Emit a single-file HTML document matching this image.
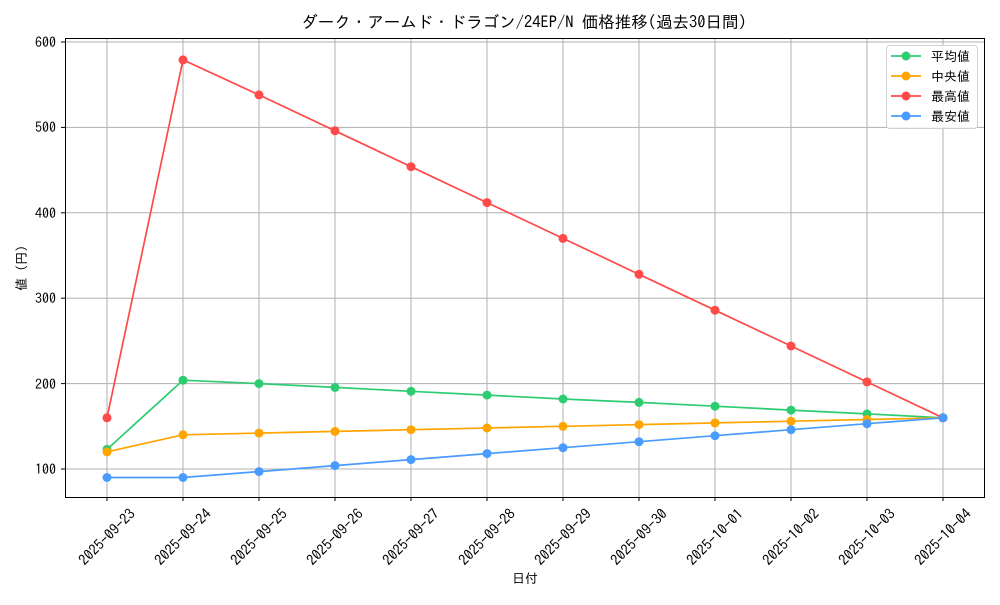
<!DOCTYPE html>
<html><head><meta charset="utf-8"><style>
body{margin:0;background:#fff;}
text{font-family:"IPAGothic","Liberation Sans","Noto Sans CJK JP",sans-serif;fill:#000;}
</style></head><body>
<svg width="1000" height="600" xmlns="http://www.w3.org/2000/svg">
<text x="524" y="28" font-size="16.5" text-anchor="middle">ダーク・アームド・ドラゴン/24EP/N 価格推移(過去30日間)</text>
<g stroke="#b0b0b0" stroke-width="1">
<line x1="107" y1="38" x2="107" y2="497"/><line x1="183" y1="38" x2="183" y2="497"/><line x1="259" y1="38" x2="259" y2="497"/><line x1="335" y1="38" x2="335" y2="497"/><line x1="411" y1="38" x2="411" y2="497"/><line x1="487" y1="38" x2="487" y2="497"/><line x1="563" y1="38" x2="563" y2="497"/><line x1="639" y1="38" x2="639" y2="497"/><line x1="715" y1="38" x2="715" y2="497"/><line x1="791" y1="38" x2="791" y2="497"/><line x1="867" y1="38" x2="867" y2="497"/><line x1="943" y1="38" x2="943" y2="497"/>
<line x1="65" y1="469" x2="984" y2="469"/><line x1="65" y1="383.6" x2="984" y2="383.6"/><line x1="65" y1="298.2" x2="984" y2="298.2"/><line x1="65" y1="212.8" x2="984" y2="212.8"/><line x1="65" y1="127.4" x2="984" y2="127.4"/><line x1="65" y1="42" x2="984" y2="42"/>
</g>
<rect x="65.5" y="38.5" width="919" height="459" fill="none" stroke="#000" stroke-width="1"/>
<g stroke="#000"><line x1="61" y1="469" x2="65" y2="469"/><line x1="61" y1="383.6" x2="65" y2="383.6"/><line x1="61" y1="298.2" x2="65" y2="298.2"/><line x1="61" y1="212.8" x2="65" y2="212.8"/><line x1="61" y1="127.4" x2="65" y2="127.4"/><line x1="61" y1="42" x2="65" y2="42"/>
<line x1="107" y1="497" x2="107" y2="501"/><line x1="183" y1="497" x2="183" y2="501"/><line x1="259" y1="497" x2="259" y2="501"/><line x1="335" y1="497" x2="335" y2="501"/><line x1="411" y1="497" x2="411" y2="501"/><line x1="487" y1="497" x2="487" y2="501"/><line x1="563" y1="497" x2="563" y2="501"/><line x1="639" y1="497" x2="639" y2="501"/><line x1="715" y1="497" x2="715" y2="501"/><line x1="791" y1="497" x2="791" y2="501"/><line x1="867" y1="497" x2="867" y2="501"/><line x1="943" y1="497" x2="943" y2="501"/></g>
<g font-size="14" text-anchor="end"><text x="56" y="474">100</text><text x="56" y="389">200</text><text x="56" y="303">300</text><text x="56" y="218">400</text><text x="56" y="132">500</text><text x="56" y="47">600</text></g>
<g font-size="14.5" text-anchor="middle">
<text transform="translate(107,537) rotate(-45)" dy="5">2025-09-23</text><text transform="translate(183,537) rotate(-45)" dy="5">2025-09-24</text><text transform="translate(259,537) rotate(-45)" dy="5">2025-09-25</text><text transform="translate(335,537) rotate(-45)" dy="5">2025-09-26</text><text transform="translate(411,537) rotate(-45)" dy="5">2025-09-27</text><text transform="translate(487,537) rotate(-45)" dy="5">2025-09-28</text><text transform="translate(563,537) rotate(-45)" dy="5">2025-09-29</text><text transform="translate(639,537) rotate(-45)" dy="5">2025-09-30</text><text transform="translate(715,537) rotate(-45)" dy="5">2025-10-01</text><text transform="translate(791,537) rotate(-45)" dy="5">2025-10-02</text><text transform="translate(867,537) rotate(-45)" dy="5">2025-10-03</text><text transform="translate(943,537) rotate(-45)" dy="5">2025-10-04</text>
</g>
<text x="525" y="583" font-size="13" text-anchor="middle">日付</text>
<text transform="translate(26,268) rotate(-90)" font-size="13" text-anchor="middle">値 (円)</text>
<g fill="none" stroke-width="1.7">
<polyline stroke="#2ecc71" points="107,449.4 183,380.2 259,383.6 335,387.4 411,391.3 487,395.1 563,399 639,402.4 715,406.2 791,410.1 867,413.9 943,417.8"/>
<polyline stroke="#ffa500" points="107,451.9 183,434.8 259,433.1 335,431.4 411,429.7 487,428 563,426.3 639,424.6 715,422.9 791,421.2 867,419.5 943,417.8"/>
<polyline stroke="#ff4a4a" points="107,417.8 183,59.9 259,94.9 335,130.8 411,166.7 487,202.6 563,238.4 639,274.3 715,310.2 791,346 867,381.9 943,417.8"/>
<polyline stroke="#4a9bff" points="107,477.5 183,477.5 259,471.6 335,465.6 411,459.6 487,453.6 563,447.7 639,441.7 715,435.7 791,429.7 867,423.7 943,417.8"/>
</g>
<g fill="#2ecc71"><circle cx="107" cy="449.4" r="4.5"/><circle cx="183" cy="380.2" r="4.5"/><circle cx="259" cy="383.6" r="4.5"/><circle cx="335" cy="387.4" r="4.5"/><circle cx="411" cy="391.3" r="4.5"/><circle cx="487" cy="395.1" r="4.5"/><circle cx="563" cy="399" r="4.5"/><circle cx="639" cy="402.4" r="4.5"/><circle cx="715" cy="406.2" r="4.5"/><circle cx="791" cy="410.1" r="4.5"/><circle cx="867" cy="413.9" r="4.5"/><circle cx="943" cy="417.8" r="4.5"/></g>
<g fill="#ffa500"><circle cx="107" cy="451.9" r="4.5"/><circle cx="183" cy="434.8" r="4.5"/><circle cx="259" cy="433.1" r="4.5"/><circle cx="335" cy="431.4" r="4.5"/><circle cx="411" cy="429.7" r="4.5"/><circle cx="487" cy="428" r="4.5"/><circle cx="563" cy="426.3" r="4.5"/><circle cx="639" cy="424.6" r="4.5"/><circle cx="715" cy="422.9" r="4.5"/><circle cx="791" cy="421.2" r="4.5"/><circle cx="867" cy="419.5" r="4.5"/><circle cx="943" cy="417.8" r="4.5"/></g>
<g fill="#ff4a4a"><circle cx="107" cy="417.8" r="4.5"/><circle cx="183" cy="59.9" r="4.5"/><circle cx="259" cy="94.9" r="4.5"/><circle cx="335" cy="130.8" r="4.5"/><circle cx="411" cy="166.7" r="4.5"/><circle cx="487" cy="202.6" r="4.5"/><circle cx="563" cy="238.4" r="4.5"/><circle cx="639" cy="274.3" r="4.5"/><circle cx="715" cy="310.2" r="4.5"/><circle cx="791" cy="346" r="4.5"/><circle cx="867" cy="381.9" r="4.5"/><circle cx="943" cy="417.8" r="4.5"/></g>
<g fill="#4a9bff"><circle cx="107" cy="477.5" r="4.5"/><circle cx="183" cy="477.5" r="4.5"/><circle cx="259" cy="471.6" r="4.5"/><circle cx="335" cy="465.6" r="4.5"/><circle cx="411" cy="459.6" r="4.5"/><circle cx="487" cy="453.6" r="4.5"/><circle cx="563" cy="447.7" r="4.5"/><circle cx="639" cy="441.7" r="4.5"/><circle cx="715" cy="435.7" r="4.5"/><circle cx="791" cy="429.7" r="4.5"/><circle cx="867" cy="423.7" r="4.5"/><circle cx="943" cy="417.8" r="4.5"/></g>
<rect x="886.5" y="45.5" width="91" height="83" rx="3" fill="#fff" fill-opacity="0.85" stroke="#d0d0d0"/>
<g stroke-width="1.7">
<line x1="891" y1="56" x2="921" y2="56" stroke="#2ecc71"/><circle cx="906" cy="56" r="4.5" fill="#2ecc71"/>
<line x1="891" y1="76" x2="921" y2="76" stroke="#ffa500"/><circle cx="906" cy="76" r="4.5" fill="#ffa500"/>
<line x1="891" y1="96" x2="921" y2="96" stroke="#ff4a4a"/><circle cx="906" cy="96" r="4.5" fill="#ff4a4a"/>
<line x1="891" y1="116" x2="921" y2="116" stroke="#4a9bff"/><circle cx="906" cy="116" r="4.5" fill="#4a9bff"/>
</g>
<g font-size="13"><text x="931" y="61">平均値</text><text x="931" y="81">中央値</text><text x="931" y="101">最高値</text><text x="931" y="121">最安値</text></g>
</svg>
</body></html>
